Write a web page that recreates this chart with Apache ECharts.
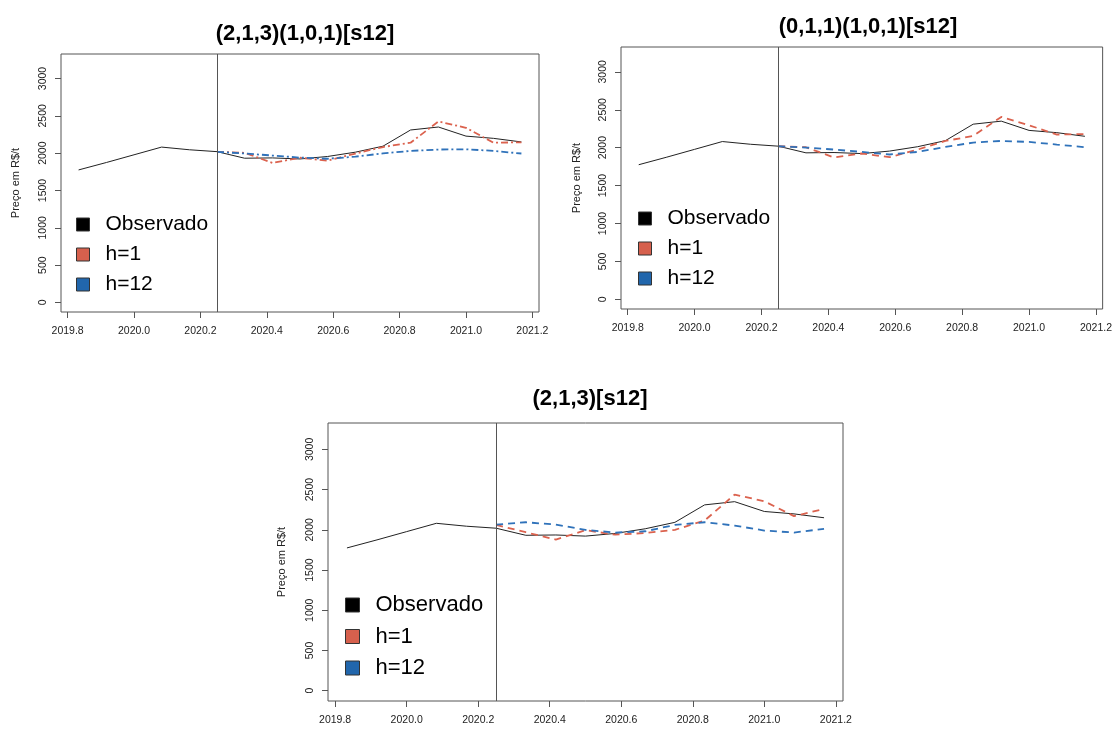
<!DOCTYPE html>
<html>
<head>
<meta charset="utf-8">
<script src="https://cdn.jsdelivr.net/npm/echarts@6/dist/echarts.min.js"></script>
<style>
html,body{margin:0;padding:0;background:#fff;}
#chart{width:1115px;height:729px;}
</style>
</head>
<body>
<div id="chart"></div>
<script>
// ---- data ----
const obsTimes = [2019.833, 2019.917, 2020.000, 2020.083, 2020.167, 2020.250, 2020.333, 2020.417, 2020.500,
                  2020.583, 2020.667, 2020.750, 2020.833, 2020.917, 2021.000, 2021.083, 2021.167];
const observed = [1775, 1875, 1978, 2081, 2045, 2020, 1932, 1936, 1922, 1955, 2013, 2093, 2310, 2350, 2228, 2198, 2150];
const fcTimes = [2020.250, 2020.333, 2020.417, 2020.500, 2020.583, 2020.667, 2020.750, 2020.833,
                 2020.917, 2021.000, 2021.083, 2021.167];
const forecastStart = 2020.25;

const titles = ['(2,1,3)(1,0,1)[s12]', '(0,1,1)(1,0,1)[s12]', '(2,1,3)[s12]'];
const h1 = [
  [2018, 2004, 1870, 1938, 1900, 1995, 2082, 2140, 2424, 2340, 2140, 2145],
  [2019, 2006, 1870, 1923, 1874, 1975, 2089, 2155, 2406, 2296, 2173, 2180],
  [2061, 1970, 1879, 1995, 1940, 1960, 2000, 2115, 2438, 2355, 2170, 2260]
];
const h12 = [
  [2018, 1995, 1968, 1940, 1925, 1953, 1997, 2030, 2048, 2052, 2030, 1995],
  [2019, 2002, 1975, 1944, 1910, 1944, 2010, 2067, 2089, 2076, 2041, 2006],
  [2065, 2094, 2065, 1999, 1966, 1982, 2061, 2094, 2053, 1991, 1966, 2012]
];
const xTicks = [2019.8, 2020.0, 2020.2, 2020.4, 2020.6, 2020.8, 2021.0, 2021.2];
const yTicks = [0, 500, 1000, 1500, 2000, 2500, 3000];
const legendNames = ['Observado', 'h=1', 'h=12'];
const yName = 'Preço em R$/t';

// ---- styles / layout ----
const FONT = "'Liberation Sans', Arial, Helvetica, sans-serif";
const colObs = '#222222', colH1 = '#DB624E', colH12 = '#2F72BA';
const fillH1 = '#D6604D', fillH12 = '#2166AC';
const dashes = [[7, 3, 2, 3], [7, 5], [7, 5]];
const panels = [
  {grid:{left:61, top:54, width:478, height:258}, titleX:300, titleTop:18, nameGap:40,
   legend:{left:76, top:214, font:21, icon:13, gap:9}},
  {grid:{left:621, top:47, width:483, height:262}, titleX:863, titleTop:11, nameGap:39,
   legend:{left:638, top:208, font:21, icon:13, gap:9}},
  {grid:{left:328, top:423, width:515, height:278}, titleX:585, titleTop:383, nameGap:41,
   legend:{left:345, top:594, font:22, icon:14, gap:9.5}}
];

const pairs = (ts, vs) => vs.map((v, i) => [ts[i], v]);

const option = {
  animation: false,
  backgroundColor: '#fff',
  title: [], grid: [], xAxis: [], yAxis: [], series: [], legend: []
};

panels.forEach((p, i) => {
  option.title.push({
    text: titles[i], left: p.titleX, top: p.titleTop, textAlign: 'center',
    textStyle: {fontFamily: FONT, fontSize: 22, fontWeight: 'bold', color: '#000'}
  });
  option.grid.push(Object.assign({show: true, borderColor: '#555', borderWidth: 1, backgroundColor: 'transparent'}, p.grid));
  option.xAxis.push({
    type: 'value', gridIndex: i, min: 2019.78, max: 2021.22, position: 'bottom',
    axisLine: {show: false, onZero: false},
    splitLine: {show: false},
    axisTick: {show: true, length: 6, customValues: xTicks, lineStyle: {color: '#555'}},
    axisLabel: {customValues: xTicks, margin: 14, fontFamily: FONT, fontSize: 10.5, color: '#222',
                formatter: v => v.toFixed(1)}
  });
  option.yAxis.push({
    type: 'value', gridIndex: i, min: -128, max: 3328, position: 'left',
    name: yName, nameLocation: 'middle', nameGap: p.nameGap,
    nameTextStyle: {fontFamily: FONT, fontSize: 11, color: '#222'},
    axisLine: {show: false, onZero: false},
    splitLine: {show: false},
    axisTick: {show: true, length: 6, customValues: yTicks, lineStyle: {color: '#555'}},
    axisLabel: {customValues: yTicks, rotate: 90, margin: 12, fontFamily: FONT, fontSize: 10.5, color: '#222',
                formatter: v => String(v)}
  });
  option.series.push({
    name: legendNames[0], type: 'line', xAxisIndex: i, yAxisIndex: i,
    data: pairs(obsTimes, observed), showSymbol: false, symbol: 'none',
    lineStyle: {color: colObs, width: 1}, itemStyle: {color: '#000'},
    markLine: {silent: true, symbol: 'none', label: {show: false},
               lineStyle: {color: '#555', type: 'solid', width: 1},
               data: [{xAxis: forecastStart}]}
  });
  option.series.push({
    name: legendNames[1], type: 'line', xAxisIndex: i, yAxisIndex: i,
    data: pairs(fcTimes, h1[i]), showSymbol: false, symbol: 'none',
    lineStyle: {color: colH1, width: 1.8, type: dashes[i]}, itemStyle: {color: fillH1}
  });
  option.series.push({
    name: legendNames[2], type: 'line', xAxisIndex: i, yAxisIndex: i,
    data: pairs(fcTimes, h12[i]), showSymbol: false, symbol: 'none',
    lineStyle: {color: colH12, width: 1.8, type: dashes[i]}, itemStyle: {color: fillH12}
  });
  const L = p.legend;
  option.legend.push({
    left: L.left, top: L.top, orient: 'vertical', icon: 'rect',
    itemWidth: L.icon, itemHeight: L.icon, itemGap: L.gap, padding: 0,
    selectedMode: false,
    itemStyle: {borderColor: '#333', borderWidth: 1, borderType: 'solid'},
    textStyle: {fontFamily: FONT, fontSize: L.font, lineHeight: L.font, color: '#000', padding: [0, 0, 0, 11]},
    data: [
      {name: legendNames[0], itemStyle: {color: '#000'}},
      {name: legendNames[1], itemStyle: {color: fillH1}},
      {name: legendNames[2], itemStyle: {color: fillH12}}
    ]
  });
});

const chart = echarts.init(document.getElementById('chart'), null, {renderer: 'canvas'});
chart.setOption(option);
</script>
</body>
</html>
